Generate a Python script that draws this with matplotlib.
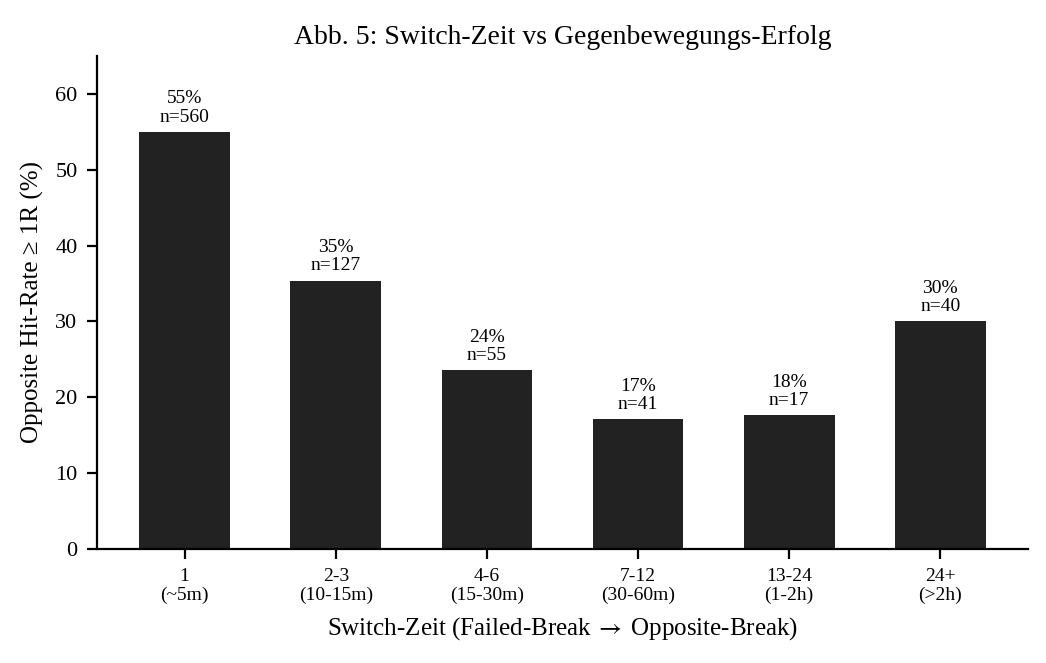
import matplotlib.pyplot as plt
import numpy as np

# Daten
kategorien = ["1\n(~5m)", "2-3\n(10-15m)", "4-6\n(15-30m)", "7-12\n(30-60m)", "13-24\n(1-2h)", "24+\n(>2h)"]
hit_rate = [55.0, 35.4, 23.6, 17.1, 17.6, 30.0]
n_werte = [560, 127, 55, 41, 17, 40]

plt.rcParams["font.family"] = ["Liberation Serif", "DejaVu Serif"]
plt.rcParams["mathtext.fontset"] = "stix"

fig, ax = plt.subplots(figsize=(5.23, 3.315), dpi=200)
fig.subplots_adjust(left=0.0927, right=0.9828, top=0.9155, bottom=0.172)

x = np.arange(len(kategorien))
ax.bar(x, hit_rate, width=0.6, color="#222222")

for xi, wert, n in zip(x, hit_rate, n_werte):
    ax.text(xi, wert + 0.8, f"{wert:.0f}%\nn={n}", ha="center", va="bottom", fontsize=7, linespacing=1.1)

ax.set_xticks(x)
ax.set_xticklabels(kategorien, fontsize=7, linespacing=1.1)
ax.tick_params(axis="y", labelsize=8)
ax.set_ylim(0, 65)

ax.set_title("Abb. 5: Switch-Zeit vs Gegenbewegungs-Erfolg", fontsize=10, pad=4.5)
ax.set_xlabel(r"Switch-Zeit (Failed-Break$\;\rightarrow\;$Opposite-Break)", fontsize=9, labelpad=4)
ax.set_ylabel("Opposite Hit-Rate ≥ 1R (%)", fontsize=9)

ax.spines["top"].set_visible(False)
ax.spines["right"].set_visible(False)

plt.savefig("out.png", dpi=200)
